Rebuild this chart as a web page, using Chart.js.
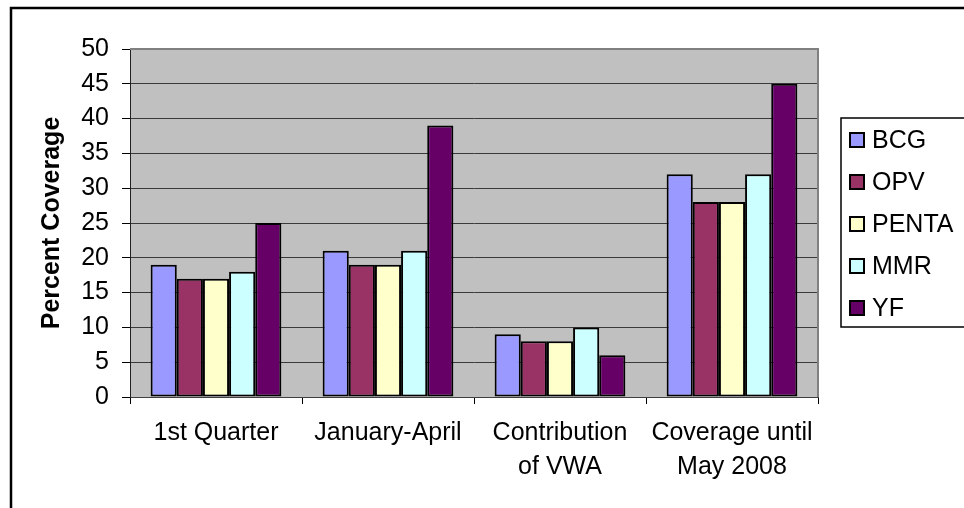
<!DOCTYPE html>
<html>
<head>
<meta charset="utf-8">
<script src="https://cdn.jsdelivr.net/npm/chart.js@4"></script>
<style>
  body { margin: 0; background: #fff; }
  #wrap { width: 964px; height: 508px; }
</style>
</head>
<body>
<div id="wrap"><canvas id="coverageChart" width="964" height="508"></canvas></div>
<script>
var categories = [['1st Quarter'], ['January-April'], ['Contribution', 'of VWA'], ['Coverage until', 'May 2008']];
var seriesNames = ['BCG', 'OPV', 'PENTA', 'MMR', 'YF'];
var seriesColors = ['#9999FF', '#993366', '#FFFFCC', '#CCFFFF', '#660066'];
var bcg = [19, 21, 9, 32];
var opv = [17, 19, 8, 28];
var penta = [17, 19, 8, 28];
var mmr = [18, 21, 10, 32];
var yf = [25, 39, 6, 45];
var yTicks = [0, 5, 10, 15, 20, 25, 30, 35, 40, 45, 50];

var seriesValues = [bcg, opv, penta, mmr, yf];
var fontName = '"Liberation Sans", Arial, sans-serif';

// white page, grey plot area, frame around everything
var backdrop = {
    id: 'backdrop',
    beforeDraw: function (chart) {
        var ctx = chart.ctx, a = chart.chartArea;
        ctx.save();
        ctx.fillStyle = '#fff';
        ctx.fillRect(0, 0, chart.width, chart.height);
        ctx.fillStyle = '#C0C0C0';
        ctx.fillRect(a.left, a.top, a.right - a.left, a.bottom - a.top);
        ctx.restore();
    },
    afterDraw: function (chart) {
        var ctx = chart.ctx, a = chart.chartArea;
        ctx.save();
        // top and right edge of plot area
        ctx.strokeStyle = '#808080';
        ctx.lineWidth = 2;
        ctx.beginPath();
        ctx.moveTo(a.left, a.top);
        ctx.lineTo(a.right, a.top);
        ctx.lineTo(a.right, a.bottom);
        ctx.stroke();
        // outer frame
        ctx.strokeStyle = '#000';
        ctx.lineWidth = 2.5;
        ctx.strokeRect(11, 8, chart.width + 20, chart.height + 20);
        // legend
        ctx.lineWidth = 1.5;
        ctx.strokeStyle = '#000';
        ctx.strokeRect(841, 118, 140, 209);
        ctx.font = '25px ' + fontName;
        ctx.textBaseline = 'middle';
        ctx.fillStyle = '#000';
        chart.data.datasets.forEach(function (ds, i) {
            var y = 140 + i * 42;
            ctx.fillStyle = ds.backgroundColor;
            ctx.fillRect(850, y - 7, 14, 14);
            ctx.strokeStyle = '#000';
            ctx.lineWidth = 2;
            ctx.strokeRect(850, y - 7, 14, 14);
            ctx.fillStyle = '#000';
            ctx.fillText(ds.label, 872, y + 1);
        });
        ctx.restore();
    }
};

var datasets = seriesNames.map(function (name, i) {
    return {
        label: name,
        data: seriesValues[i],
        backgroundColor: seriesColors[i],
        borderColor: '#000',
        borderWidth: 2,
        borderSkipped: false,
        barPercentage: 1,
        categoryPercentage: 0.76
    };
});

var coverage = document.getElementById('coverageChart').getContext('2d');
new Chart(coverage, {
    type: 'bar',
    data: {
        labels: categories,
        datasets: datasets
    },
    options: {
        responsive: false,
        animation: false,
        events: [],
        layout: {
            padding: { left: 37, top: 49, right: 146, bottom: 0 }
        },
        scales: {
            x: {
                afterFit: function (scale) { scale.height = 111; },
                grid: {
                    offset: true,
                    drawOnChartArea: false,
                    tickLength: 7,
                    tickColor: '#000'
                },
                border: { color: '#404040', width: 1 },
                ticks: {
                    color: '#000',
                    padding: 12,
                    maxRotation: 0,
                    font: { family: fontName, size: 25, lineHeight: 1.36 }
                }
            },
            y: {
                min: 0,
                max: 50,
                afterFit: function (scale) { scale.width = 93; },
                afterBuildTicks: function (scale) {
                    scale.ticks = yTicks.map(function (v) { return { value: v }; });
                },
                grid: {
                    color: '#3a3a3a',
                    tickColor: '#000',
                    tickLength: 8,
                    lineWidth: 1
                },
                border: { color: '#222', width: 1 },
                ticks: {
                    color: '#000',
                    padding: 13,
                    font: { family: fontName, size: 25 }
                },
                title: {
                    display: true,
                    text: 'Percent Coverage',
                    color: '#000',
                    padding: 0,
                    font: { family: fontName, size: 25, weight: 'bold', lineHeight: 1.2 }
                }
            }
        },
        plugins: {
            legend: { display: false },
            tooltip: { enabled: false }
        }
    },
    plugins: [backdrop]
});
</script>
</body>
</html>
